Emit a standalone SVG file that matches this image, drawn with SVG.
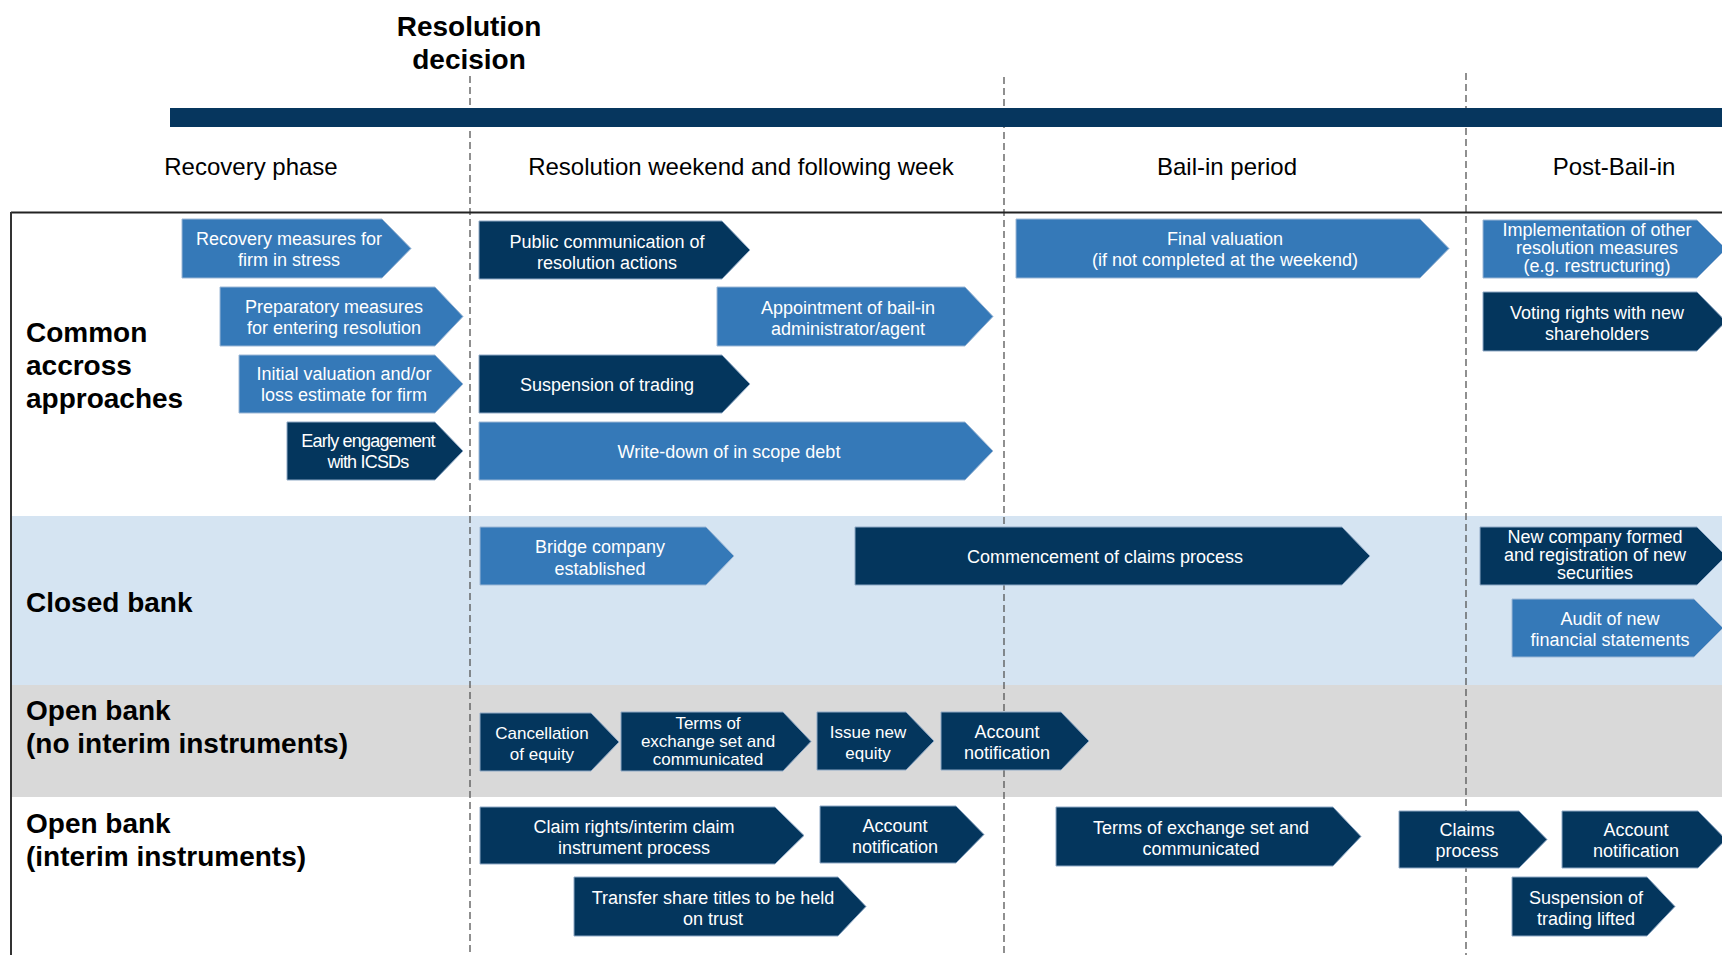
<svg xmlns="http://www.w3.org/2000/svg" width="1722" height="955" viewBox="0 0 1722 955">
<style>
text{font-family:"Liberation Sans",Arial,sans-serif}
.t{font-size:18px;fill:#fff;text-anchor:middle}
.t17{font-size:17px;fill:#fff;text-anchor:middle}
.lt{fill:#3579B8;stroke:#9DB8D6;stroke-width:1}
.dk{fill:#04365D;stroke:#8FA9C6;stroke-width:1}
.lbl{font-size:28px;font-weight:bold;fill:#000}
.ph{font-size:24px;fill:#000;text-anchor:middle}
.div{stroke:#555;stroke-width:1.3;stroke-dasharray:7,4;fill:none}
</style>
<rect width="1722" height="955" fill="#fff"/>
<g id="bands">
<rect x="11" y="516" width="1711" height="169" fill="#D5E4F2"/>
<rect x="11" y="685" width="1711" height="112" fill="#D9D9D9"/>
</g>
<g id="dividers">
<line class="div" x1="470" y1="76" x2="470" y2="955"/>
<line class="div" x1="1004" y1="77" x2="1004" y2="955"/>
<line class="div" x1="1466" y1="73" x2="1466" y2="955"/>
</g>
<g id="frame">
<line x1="11" y1="212.5" x2="1722" y2="212.5" stroke="#222" stroke-width="2"/>
<line x1="11" y1="212" x2="11" y2="955" stroke="#333" stroke-width="2"/>
</g>
<g id="timeline">
<rect x="170" y="108" width="1552" height="19" fill="#06365E"/>
<text class="lbl" x="469" y="36" text-anchor="middle">Resolution</text>
<text class="lbl" x="469" y="69" text-anchor="middle">decision</text>
<text class="ph" x="251" y="175">Recovery phase</text>
<text class="ph" x="741" y="175">Resolution weekend and following week</text>
<text class="ph" x="1227" y="175">Bail-in period</text>
<text class="ph" x="1614" y="175">Post-Bail-in</text>
</g>
<g id="row-labels">
<text class="lbl" x="26" y="342">Common</text>
<text class="lbl" x="26" y="375">accross</text>
<text class="lbl" x="26" y="408">approaches</text>
<text class="lbl" x="26" y="612">Closed bank</text>
<text class="lbl" x="26" y="720">Open bank</text>
<text class="lbl" x="26" y="753">(no interim instruments)</text>
<text class="lbl" x="26" y="833">Open bank</text>
<text class="lbl" x="26" y="866">(interim instruments)</text>
</g>
<g id="n-recovery"><polygon class="lt" points="182,219 382,219 411,248.5 382,278 182,278"/><text class="t" x="289" y="245">Recovery measures for</text><text class="t" x="289" y="266">firm in stress</text></g>
<g id="n-preparatory"><polygon class="lt" points="220,287 435,287 463,316.5 435,346 220,346"/><text class="t" x="334" y="313">Preparatory measures</text><text class="t" x="334" y="334">for entering resolution</text></g>
<g id="n-initial"><polygon class="lt" points="239,355 435,355 463,384 435,413 239,413"/><text class="t" x="344" y="380">Initial valuation and/or</text><text class="t" x="344" y="401">loss estimate for firm</text></g>
<g id="n-early"><polygon class="dk" points="287,422 435,422 463,451 435,480 287,480"/><text class="t" x="368" y="447" letter-spacing="-0.8">Early engagement</text><text class="t" x="368" y="468" letter-spacing="-0.8">with ICSDs</text></g>
<g id="n-public"><polygon class="dk" points="479,221 722,221 750,250 722,279 479,279"/><text class="t" x="607" y="247.5">Public communication of</text><text class="t" x="607" y="268.5">resolution actions</text></g>
<g id="n-appointment"><polygon class="lt" points="717,287 965,287 993,316.5 965,346 717,346"/><text class="t" x="848" y="313.5">Appointment of bail-in</text><text class="t" x="848" y="334.5">administrator/agent</text></g>
<g id="n-suspension"><polygon class="dk" points="479,355 722,355 750,384 722,413 479,413"/><text class="t" x="607" y="391">Suspension of trading</text></g>
<g id="n-writedown"><polygon class="lt" points="479,422 965,422 993,451 965,480 479,480"/><text class="t" x="729" y="458">Write-down of in scope debt</text></g>
<g id="n-final"><polygon class="lt" points="1016,219 1420,219 1449,248.5 1420,278 1016,278"/><text class="t" x="1225" y="245">Final valuation</text><text class="t" x="1225" y="266">(if not completed at the weekend)</text></g>
<g id="n-implementation"><polygon class="lt" points="1483,220 1697,220 1726,249 1697,278 1483,278"/><text class="t" x="1597" y="236">Implementation of other</text><text class="t" x="1597" y="254">resolution measures</text><text class="t" x="1597" y="272">(e.g. restructuring)</text></g>
<g id="n-voting"><polygon class="dk" points="1483,292 1697,292 1726,321.5 1697,351 1483,351"/><text class="t" x="1597" y="318.5">Voting rights with new</text><text class="t" x="1597" y="339.5">shareholders</text></g>
<g id="n-bridge"><polygon class="lt" points="480,527 706,527 734,556 706,585 480,585"/><text class="t" x="600" y="553">Bridge company</text><text class="t" x="600" y="575">established</text></g>
<g id="n-commencement"><polygon class="dk" points="855,527 1342,527 1370,556 1342,585 855,585"/><text class="t" x="1105" y="563">Commencement of claims process</text></g>
<g id="n-newco"><polygon class="dk" points="1480,527 1697,527 1726,556 1697,585 1480,585"/><text class="t" x="1595" y="543">New company formed</text><text class="t" x="1595" y="561">and registration of new</text><text class="t" x="1595" y="579">securities</text></g>
<g id="n-audit"><polygon class="lt" points="1512,599 1694,599 1723,628 1694,657 1512,657"/><text class="t" x="1610" y="624.5">Audit of new</text><text class="t" x="1610" y="645.5">financial statements</text></g>
<g id="n-cancellation"><polygon class="dk" points="480,713 591,713 619,742 591,771 480,771"/><text class="t17" x="542" y="738.5">Cancellation</text><text class="t17" x="542" y="759.5">of equity</text></g>
<g id="n-terms1"><polygon class="dk" points="621,712 783,712 811,741.5 783,771 621,771"/><text class="t17" x="708" y="728.5">Terms of</text><text class="t17" x="708" y="746.5">exchange set and</text><text class="t17" x="708" y="764.5">communicated</text></g>
<g id="n-issue"><polygon class="dk" points="817,712 906,712 934,741 906,770 817,770"/><text class="t17" x="868" y="737.5">Issue new</text><text class="t17" x="868" y="758.5">equity</text></g>
<g id="n-account1"><polygon class="dk" points="941,712 1061,712 1089,741 1061,770 941,770"/><text class="t" x="1007" y="737.5">Account</text><text class="t" x="1007" y="758.5">notification</text></g>
<g id="n-claimrights"><polygon class="dk" points="480,807 775,807 804,835.5 775,864 480,864"/><text class="t" x="634" y="833">Claim rights/interim claim</text><text class="t" x="634" y="854">instrument process</text></g>
<g id="n-account2"><polygon class="dk" points="820,806 956,806 984,834.5 956,863 820,863"/><text class="t" x="895" y="831.5">Account</text><text class="t" x="895" y="852.5">notification</text></g>
<g id="n-transfer"><polygon class="dk" points="574,877 838,877 866,906.5 838,936 574,936"/><text class="t" x="713" y="904">Transfer share titles to be held</text><text class="t" x="713" y="925">on trust</text></g>
<g id="n-terms2"><polygon class="dk" points="1056,807 1333,807 1361,836.5 1333,866 1056,866"/><text class="t" x="1201" y="833.5">Terms of exchange set and</text><text class="t" x="1201" y="854.5">communicated</text></g>
<g id="n-claims"><polygon class="dk" points="1399,811 1519,811 1547,839.5 1519,868 1399,868"/><text class="t" x="1467" y="836">Claims</text><text class="t" x="1467" y="857">process</text></g>
<g id="n-account3"><polygon class="dk" points="1562,811 1698,811 1726,839.5 1698,868 1562,868"/><text class="t" x="1636" y="836">Account</text><text class="t" x="1636" y="857">notification</text></g>
<g id="n-suspensionlifted"><polygon class="dk" points="1512,877 1647,877 1675,906.5 1647,936 1512,936"/><text class="t" x="1586" y="903.5">Suspension of</text><text class="t" x="1586" y="924.5">trading lifted</text></g>
</svg>
